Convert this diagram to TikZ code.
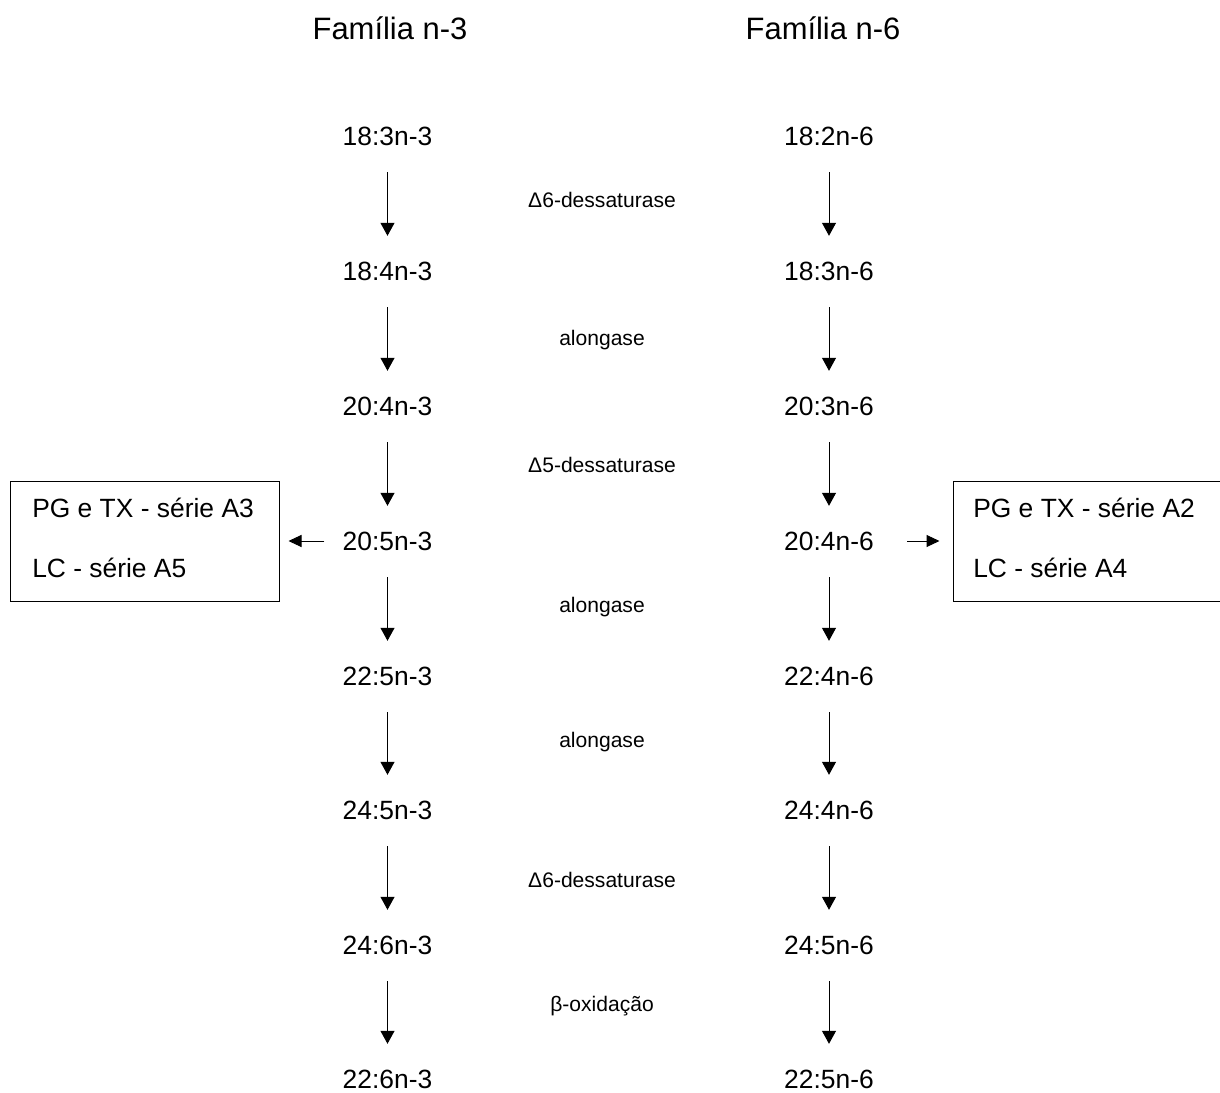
\documentclass[tikz,border=0pt]{standalone}
\usepackage{fontspec}
\setmainfont{Liberation Sans}
\usetikzlibrary{arrows.meta}
\begin{document}
\begin{tikzpicture}[x=0.75pt,y=-0.75pt,
  title/.style={font=\fontsize{23.2}{28}\selectfont, inner sep=0pt, text height=16.6pt, text depth=0pt},
  chem/.style={font=\fontsize{19.8}{24}\selectfont, inner sep=0pt, text height=14.2pt, text depth=0pt},
  enz/.style={font=\fontsize{15.8}{19}\selectfont, inner sep=0pt, text height=11.3pt, text depth=0pt},
  boxtxt/.style={font=\fontsize{19.8}{24}\selectfont, inner sep=0pt, text height=14.2pt, text depth=0pt, anchor=west},
  prodbox/.style={draw, line width=0.75pt, minimum width=201.75pt, minimum height=90pt, inner sep=0pt},
  varr/.style={-{Triangle[length=9.75pt,width=10.5pt]}, line width=0.75pt, shorten <=19.9pt, shorten >=19.1pt},
  tip/.style={-{Triangle[length=9.75pt,width=9pt]}, line width=0.75pt}
]
\useasboundingbox (0,0) rectangle (1220,1092);

% titles
\node[title] (t3) at (390,28) {Família n-3};
\node[title] (t6) at (823,28) {Família n-6};

% n-3 column
\node[chem] (l1) at (387.5,136) {18:3n-3};
\node[chem] (l2) at (387.5,271) {18:4n-3};
\node[chem] (l3) at (387.5,406) {20:4n-3};
\node[chem] (l4) at (387.5,541) {20:5n-3};
\node[chem] (l5) at (387.5,676) {22:5n-3};
\node[chem] (l6) at (387.5,810) {24:5n-3};
\node[chem] (l7) at (387.5,945) {24:6n-3};
\node[chem] (l8) at (387.5,1079) {22:6n-3};

% n-6 column
\node[chem] (r1) at (829,136) {18:2n-6};
\node[chem] (r2) at (829,271) {18:3n-6};
\node[chem] (r3) at (829,406) {20:3n-6};
\node[chem] (r4) at (829,541) {20:4n-6};
\node[chem] (r5) at (829,676) {22:4n-6};
\node[chem] (r6) at (829,810) {24:4n-6};
\node[chem] (r7) at (829,945) {24:5n-6};
\node[chem] (r8) at (829,1079) {22:5n-6};

% enzymes
\node[enz] (e1) at (602,200) {Δ6-dessaturase};
\node[enz] (e2) at (602,338) {alongase};
\node[enz] (e3) at (602,465) {Δ5-dessaturase};
\node[enz] (e4) at (602,605) {alongase};
\node[enz] (e5) at (602,740) {alongase};
\node[enz] (e6) at (602,880) {Δ6-dessaturase};
\node[enz] (e7) at (602,1004) {β-oxidação};

% arrows
\foreach \a/\b in {1/2,2/3,3/4,4/5,5/6,6/7,7/8}{
  \draw[varr] (l\a) -- (l\b);
  \draw[varr] (r\a) -- (r\b);
}

% product boxes
\node[prodbox] (bl) at (144.5,541) {};
\node[boxtxt] (bl1) at (32,508) {PG e TX - série A3};
\node[boxtxt] (bl2) at (32,568) {LC - série A5};

\node[prodbox] (br) at (1087.5,541) {};
\node[boxtxt] (br1) at (973,508) {PG e TX - série A2};
\node[boxtxt] (br2) at (973,568) {LC - série A4};

\draw[tip, shorten <=13.5pt, shorten >=6.75pt] (l4) -- (bl);
\draw[tip, shorten <=24.75pt, shorten >=9.75pt] (r4) -- (br);
\end{tikzpicture}
\end{document}
